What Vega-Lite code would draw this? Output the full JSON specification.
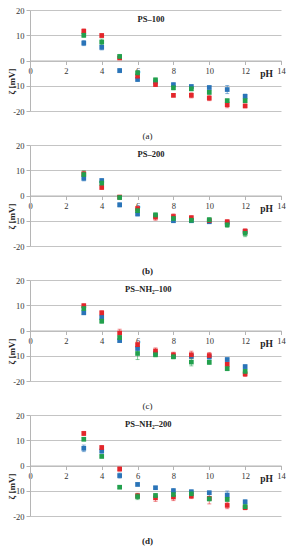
{
  "$schema": "https://vega.github.io/schema/vega-lite/v6.json",
  "padding": {"left": 7, "top": 6, "right": 5, "bottom": 3},
  "spacing": 0,
  "config": {
    "font": "Liberation Serif",
    "view": {"stroke": null},
    "title": {"font": "Liberation Serif", "fontSize": 9, "fontWeight": "bold", "orient": "bottom", "offset": 16, "dx": -8, "color": "#222"},
    "axis": {"labelFont": "Liberation Serif", "titleFont": "Liberation Serif", "labelFontSize": 8.5, "labelColor": "#333", "titleColor": "#222", "labelOverlap": false},
    "axisX": {"orient": "bottom", "offset": -50.5, "values": [0,2,4,6,8,10,12,14], "grid": false, "domainColor": "#b5b5b5", "tickColor": "#b5b5b5", "tickSize": 4, "labelPadding": 2, "labelFlush": false, "titleFontSize": 9.5, "titleFontWeight": "bold", "titleX": 236, "titleY": 8, "titleBaseline": "top", "titleAlign": "center"},
    "axisY": {"values": [-20,-10,0,10,20], "grid": true, "gridColor": "#c4c4c4", "domainColor": "#b5b5b5", "tickColor": "#b5b5b5", "tickSize": 4, "labelPadding": 2, "labelExpr": "'' + datum.value", "titleFontSize": 9, "titleFontWeight": "bold", "titleX": -19, "titleY": 71, "titleBaseline": "middle"}
  },
  "datasets": {
    "pts": [
      {"p": "a", "pH": 3, "s": "b", "v": 6.9, "e": 1.0},
      {"p": "a", "pH": 3, "s": "r", "v": 11.6, "e": 0.9},
      {"p": "a", "pH": 3, "s": "g", "v": 10.0, "e": 0.8},
      {"p": "a", "pH": 4, "s": "b", "v": 5.2, "e": 1.0},
      {"p": "a", "pH": 4, "s": "r", "v": 9.9, "e": 0.7},
      {"p": "a", "pH": 4, "s": "g", "v": 7.3, "e": 1.2},
      {"p": "a", "pH": 5, "s": "b", "v": -4.0, "e": 0.8},
      {"p": "a", "pH": 5, "s": "r", "v": 1.0, "e": 0.6},
      {"p": "a", "pH": 5, "s": "g", "v": 1.6, "e": 0.8},
      {"p": "a", "pH": 6, "s": "b", "v": -7.5, "e": 0.8},
      {"p": "a", "pH": 6, "s": "r", "v": -6.2, "e": 0.8},
      {"p": "a", "pH": 6, "s": "g", "v": -4.9, "e": 0.8},
      {"p": "a", "pH": 7, "s": "b", "v": -8.5, "e": 0.6},
      {"p": "a", "pH": 7, "s": "r", "v": -9.5, "e": 0.8},
      {"p": "a", "pH": 7, "s": "g", "v": -7.7, "e": 0.8},
      {"p": "a", "pH": 8, "s": "b", "v": -9.6, "e": 0.8},
      {"p": "a", "pH": 8, "s": "r", "v": -13.8, "e": 0.6},
      {"p": "a", "pH": 8, "s": "g", "v": -10.8, "e": 0.8},
      {"p": "a", "pH": 9, "s": "b", "v": -10.3, "e": 0.6},
      {"p": "a", "pH": 9, "s": "r", "v": -13.8, "e": 1.0},
      {"p": "a", "pH": 9, "s": "g", "v": -11.2, "e": 0.8},
      {"p": "a", "pH": 10, "s": "b", "v": -10.7, "e": 0.6},
      {"p": "a", "pH": 10, "s": "r", "v": -14.9, "e": 1.0},
      {"p": "a", "pH": 10, "s": "g", "v": -12.6, "e": 0.8},
      {"p": "a", "pH": 11, "s": "b", "v": -11.5, "e": 1.6},
      {"p": "a", "pH": 11, "s": "r", "v": -17.5, "e": 1.2},
      {"p": "a", "pH": 11, "s": "g", "v": -15.9, "e": 0.6},
      {"p": "a", "pH": 12, "s": "b", "v": -14.2, "e": 0.9},
      {"p": "a", "pH": 12, "s": "r", "v": -18.0, "e": 0.7},
      {"p": "a", "pH": 12, "s": "g", "v": -15.9, "e": 0.8},

      {"p": "b", "pH": 3, "s": "b", "v": 6.8, "e": 1.0},
      {"p": "b", "pH": 3, "s": "r", "v": 8.6, "e": 1.0},
      {"p": "b", "pH": 3, "s": "g", "v": 8.3, "e": 1.5},
      {"p": "b", "pH": 4, "s": "b", "v": 5.9, "e": 0.8},
      {"p": "b", "pH": 4, "s": "r", "v": 3.2, "e": 0.8},
      {"p": "b", "pH": 4, "s": "g", "v": 4.9, "e": 0.8},
      {"p": "b", "pH": 5, "s": "b", "v": -3.7, "e": 0.8},
      {"p": "b", "pH": 5, "s": "r", "v": -0.6, "e": 0.6},
      {"p": "b", "pH": 5, "s": "g", "v": -0.8, "e": 0.8},
      {"p": "b", "pH": 6, "s": "b", "v": -7.3, "e": 0.8},
      {"p": "b", "pH": 6, "s": "r", "v": -5.2, "e": 0.8},
      {"p": "b", "pH": 6, "s": "g", "v": -6.0, "e": 0.8},
      {"p": "b", "pH": 7, "s": "b", "v": -8.1, "e": 0.6},
      {"p": "b", "pH": 7, "s": "r", "v": -8.6, "e": 1.2},
      {"p": "b", "pH": 7, "s": "g", "v": -7.7, "e": 0.8},
      {"p": "b", "pH": 8, "s": "b", "v": -10.0, "e": 0.7},
      {"p": "b", "pH": 8, "s": "r", "v": -8.3, "e": 1.0},
      {"p": "b", "pH": 8, "s": "g", "v": -9.1, "e": 0.8},
      {"p": "b", "pH": 9, "s": "b", "v": -10.0, "e": 0.6},
      {"p": "b", "pH": 9, "s": "r", "v": -8.8, "e": 0.8},
      {"p": "b", "pH": 9, "s": "g", "v": -9.8, "e": 0.8},
      {"p": "b", "pH": 10, "s": "b", "v": -10.4, "e": 0.7},
      {"p": "b", "pH": 10, "s": "r", "v": -9.9, "e": 0.6},
      {"p": "b", "pH": 10, "s": "g", "v": -9.6, "e": 0.8},
      {"p": "b", "pH": 11, "s": "b", "v": -10.9, "e": 0.8},
      {"p": "b", "pH": 11, "s": "r", "v": -10.4, "e": 0.8},
      {"p": "b", "pH": 11, "s": "g", "v": -11.6, "e": 1.0},
      {"p": "b", "pH": 12, "s": "b", "v": -14.3, "e": 0.8},
      {"p": "b", "pH": 12, "s": "r", "v": -14.1, "e": 0.9},
      {"p": "b", "pH": 12, "s": "g", "v": -15.0, "e": 1.3},

      {"p": "c", "pH": 3, "s": "b", "v": 7.0, "e": 0.6},
      {"p": "c", "pH": 3, "s": "r", "v": 9.8, "e": 0.8},
      {"p": "c", "pH": 3, "s": "g", "v": 8.7, "e": 0.8},
      {"p": "c", "pH": 4, "s": "b", "v": 5.2, "e": 0.8},
      {"p": "c", "pH": 4, "s": "r", "v": 7.0, "e": 0.8},
      {"p": "c", "pH": 4, "s": "g", "v": 3.7, "e": 0.8},
      {"p": "c", "pH": 5, "s": "b", "v": -4.0, "e": 0.6},
      {"p": "c", "pH": 5, "s": "r", "v": -1.0, "e": 1.5},
      {"p": "c", "pH": 5, "s": "g", "v": -2.8, "e": 0.8},
      {"p": "c", "pH": 6, "s": "b", "v": -7.1, "e": 0.8},
      {"p": "c", "pH": 6, "s": "r", "v": -5.6, "e": 1.0},
      {"p": "c", "pH": 6, "s": "g", "v": -9.1, "e": 2.4},
      {"p": "c", "pH": 7, "s": "b", "v": -9.0, "e": 0.6},
      {"p": "c", "pH": 7, "s": "r", "v": -8.1, "e": 1.2},
      {"p": "c", "pH": 7, "s": "g", "v": -9.6, "e": 0.8},
      {"p": "c", "pH": 8, "s": "b", "v": -10.2, "e": 0.6},
      {"p": "c", "pH": 8, "s": "r", "v": -9.6, "e": 1.0},
      {"p": "c", "pH": 8, "s": "g", "v": -10.4, "e": 0.8},
      {"p": "c", "pH": 9, "s": "b", "v": -10.2, "e": 0.8},
      {"p": "c", "pH": 9, "s": "r", "v": -9.6, "e": 1.4},
      {"p": "c", "pH": 9, "s": "g", "v": -12.5, "e": 1.5},
      {"p": "c", "pH": 10, "s": "b", "v": -10.5, "e": 0.8},
      {"p": "c", "pH": 10, "s": "r", "v": -9.9, "e": 1.2},
      {"p": "c", "pH": 10, "s": "g", "v": -12.6, "e": 0.8},
      {"p": "c", "pH": 11, "s": "b", "v": -11.5, "e": 0.6},
      {"p": "c", "pH": 11, "s": "r", "v": -13.4, "e": 1.0},
      {"p": "c", "pH": 11, "s": "g", "v": -15.1, "e": 0.8},
      {"p": "c", "pH": 12, "s": "b", "v": -14.3, "e": 0.7},
      {"p": "c", "pH": 12, "s": "r", "v": -17.2, "e": 1.0},
      {"p": "c", "pH": 12, "s": "g", "v": -16.2, "e": 0.8},

      {"p": "d", "pH": 3, "s": "b", "v": 6.8, "e": 1.3},
      {"p": "d", "pH": 3, "s": "r", "v": 12.7, "e": 0.8},
      {"p": "d", "pH": 3, "s": "g", "v": 10.4, "e": 0.6},
      {"p": "d", "pH": 4, "s": "b", "v": 5.7, "e": 0.8},
      {"p": "d", "pH": 4, "s": "r", "v": 7.1, "e": 0.8},
      {"p": "d", "pH": 4, "s": "g", "v": 3.6, "e": 0.6},
      {"p": "d", "pH": 5, "s": "b", "v": -4.0, "e": 1.0},
      {"p": "d", "pH": 5, "s": "r", "v": -1.4, "e": 0.8},
      {"p": "d", "pH": 5, "s": "g", "v": -8.6, "e": 0.5},
      {"p": "d", "pH": 6, "s": "b", "v": -7.5, "e": 0.6},
      {"p": "d", "pH": 6, "s": "r", "v": -12.0, "e": 1.0},
      {"p": "d", "pH": 6, "s": "g", "v": -12.3, "e": 1.2},
      {"p": "d", "pH": 7, "s": "b", "v": -8.8, "e": 0.5},
      {"p": "d", "pH": 7, "s": "r", "v": -12.8, "e": 1.4},
      {"p": "d", "pH": 7, "s": "g", "v": -11.9, "e": 0.8},
      {"p": "d", "pH": 8, "s": "b", "v": -10.0, "e": 0.9},
      {"p": "d", "pH": 8, "s": "r", "v": -12.5, "e": 1.4},
      {"p": "d", "pH": 8, "s": "g", "v": -11.5, "e": 1.0},
      {"p": "d", "pH": 9, "s": "b", "v": -10.4, "e": 0.7},
      {"p": "d", "pH": 9, "s": "r", "v": -12.1, "e": 1.0},
      {"p": "d", "pH": 9, "s": "g", "v": -11.2, "e": 0.8},
      {"p": "d", "pH": 10, "s": "b", "v": -10.8, "e": 0.7},
      {"p": "d", "pH": 10, "s": "r", "v": -13.0, "e": 2.2},
      {"p": "d", "pH": 10, "s": "g", "v": -13.2, "e": 0.8},
      {"p": "d", "pH": 11, "s": "b", "v": -11.7, "e": 1.6},
      {"p": "d", "pH": 11, "s": "r", "v": -15.8, "e": 1.3},
      {"p": "d", "pH": 11, "s": "g", "v": -13.4, "e": 0.8},
      {"p": "d", "pH": 12, "s": "b", "v": -14.4, "e": 0.8},
      {"p": "d", "pH": 12, "s": "r", "v": -16.7, "e": 0.8},
      {"p": "d", "pH": 12, "s": "g", "v": -16.3, "e": 1.0}
    ],
    "titles": [
      {"p": "a", "x": 6.75, "y": 16.5, "t": "PS–100"},
      {"p": "b", "x": 6.75, "y": 16.5, "t": "PS–200"},
      {"p": "c", "x": 6.6, "y": 16.3, "t": "PS–NH₂–100"},
      {"p": "d", "x": 6.6, "y": 16.3, "t": "PS–NH₂–200"}
    ]
  },
  "vconcat": [
    {
      "width": 251, "height": 101,
      "title": {"text": "(a)", "fontWeight": "normal"},
      "layer": [
        {"data": {"name": "pts"}, "transform": [{"filter": "datum.p === 'a'"}],
         "mark": {"type": "errorbar", "ticks": {"size": 4}, "opacity": 0.55},
         "encoding": {"x": {"field": "pH", "type": "quantitative", "scale": {"domain": [0, 14], "nice": false}, "axis": {"title": "pH"}},
          "y": {"field": "v", "type": "quantitative", "scale": {"domain": [-20, 20], "nice": false}, "axis": {"title": "ζ [mV]", "titleAlign": "center", "titleAngle": -90}},
          "yError": {"field": "e"},
          "color": {"field": "s", "type": "nominal", "scale": {"domain": ["r", "g", "b"], "range": ["#e3262b", "#22a04d", "#2a74b8"]}, "legend": null}}},
        {"data": {"name": "pts"}, "transform": [{"filter": "datum.p === 'a'"}, {"calculate": "datum.s === 'g' ? 3 : datum.s === 'r' ? 2 : 1", "as": "ord"}],
         "mark": {"type": "square", "size": 22, "opacity": 1},
         "encoding": {"x": {"field": "pH", "type": "quantitative"}, "y": {"field": "v", "type": "quantitative"},
          "order": {"field": "ord"},
          "color": {"field": "s", "type": "nominal", "legend": null}}},
        {"data": {"name": "titles"}, "transform": [{"filter": "datum.p === 'a'"}],
         "mark": {"type": "text", "fontWeight": "bold", "fontSize": 8.5, "font": "Liberation Serif", "color": "#222"},
         "encoding": {"x": {"field": "x", "type": "quantitative"}, "y": {"field": "y", "type": "quantitative"}, "text": {"field": "t"}}}
      ]
    },
    {
      "width": 251, "height": 101,
      "title": {"text": "(b)"},
      "layer": [
        {"data": {"name": "pts"}, "transform": [{"filter": "datum.p === 'b'"}],
         "mark": {"type": "errorbar", "ticks": {"size": 4}, "opacity": 0.55},
         "encoding": {"x": {"field": "pH", "type": "quantitative", "scale": {"domain": [0, 14], "nice": false}, "axis": {"title": "pH"}},
          "y": {"field": "v", "type": "quantitative", "scale": {"domain": [-20, 20], "nice": false}, "axis": {"title": "ζ [mV]", "titleAlign": "center", "titleAngle": -90}},
          "yError": {"field": "e"},
          "color": {"field": "s", "type": "nominal", "scale": {"domain": ["r", "g", "b"], "range": ["#e3262b", "#22a04d", "#2a74b8"]}, "legend": null}}},
        {"data": {"name": "pts"}, "transform": [{"filter": "datum.p === 'b'"}, {"calculate": "datum.s === 'g' ? 3 : datum.s === 'r' ? 2 : 1", "as": "ord"}],
         "mark": {"type": "square", "size": 22, "opacity": 1},
         "encoding": {"x": {"field": "pH", "type": "quantitative"}, "y": {"field": "v", "type": "quantitative"},
          "order": {"field": "ord"},
          "color": {"field": "s", "type": "nominal", "legend": null}}},
        {"data": {"name": "titles"}, "transform": [{"filter": "datum.p === 'b'"}],
         "mark": {"type": "text", "fontWeight": "bold", "fontSize": 8.5, "font": "Liberation Serif", "color": "#222"},
         "encoding": {"x": {"field": "x", "type": "quantitative"}, "y": {"field": "y", "type": "quantitative"}, "text": {"field": "t"}}}
      ]
    },
    {
      "width": 251, "height": 101,
      "title": {"text": "(c)", "fontWeight": "normal"},
      "layer": [
        {"data": {"name": "pts"}, "transform": [{"filter": "datum.p === 'c'"}],
         "mark": {"type": "errorbar", "ticks": {"size": 4}, "opacity": 0.55},
         "encoding": {"x": {"field": "pH", "type": "quantitative", "scale": {"domain": [0, 14], "nice": false}, "axis": {"title": "pH"}},
          "y": {"field": "v", "type": "quantitative", "scale": {"domain": [-20, 20], "nice": false}, "axis": {"title": "ζ [mV]", "titleAlign": "center", "titleAngle": -90}},
          "yError": {"field": "e"},
          "color": {"field": "s", "type": "nominal", "scale": {"domain": ["r", "g", "b"], "range": ["#e3262b", "#22a04d", "#2a74b8"]}, "legend": null}}},
        {"data": {"name": "pts"}, "transform": [{"filter": "datum.p === 'c'"}, {"calculate": "datum.s === 'g' ? 3 : datum.s === 'r' ? 2 : 1", "as": "ord"}],
         "mark": {"type": "square", "size": 22, "opacity": 1},
         "encoding": {"x": {"field": "pH", "type": "quantitative"}, "y": {"field": "v", "type": "quantitative"},
          "order": {"field": "ord"},
          "color": {"field": "s", "type": "nominal", "legend": null}}},
        {"data": {"name": "titles"}, "transform": [{"filter": "datum.p === 'c'"}],
         "mark": {"type": "text", "fontWeight": "bold", "fontSize": 8.5, "font": "Liberation Serif", "color": "#222"},
         "encoding": {"x": {"field": "x", "type": "quantitative"}, "y": {"field": "y", "type": "quantitative"}, "text": {"field": "t"}}}
      ]
    },
    {
      "width": 251, "height": 101,
      "title": {"text": "(d)"},
      "layer": [
        {"data": {"name": "pts"}, "transform": [{"filter": "datum.p === 'd'"}],
         "mark": {"type": "errorbar", "ticks": {"size": 4}, "opacity": 0.55},
         "encoding": {"x": {"field": "pH", "type": "quantitative", "scale": {"domain": [0, 14], "nice": false}, "axis": {"title": "pH"}},
          "y": {"field": "v", "type": "quantitative", "scale": {"domain": [-20, 20], "nice": false}, "axis": {"title": "ζ [mV]", "titleAlign": "center", "titleAngle": -90}},
          "yError": {"field": "e"},
          "color": {"field": "s", "type": "nominal", "scale": {"domain": ["r", "g", "b"], "range": ["#e3262b", "#22a04d", "#2a74b8"]}, "legend": null}}},
        {"data": {"name": "pts"}, "transform": [{"filter": "datum.p === 'd'"}, {"calculate": "datum.s === 'g' ? 3 : datum.s === 'r' ? 2 : 1", "as": "ord"}],
         "mark": {"type": "square", "size": 22, "opacity": 1},
         "encoding": {"x": {"field": "pH", "type": "quantitative"}, "y": {"field": "v", "type": "quantitative"},
          "order": {"field": "ord"},
          "color": {"field": "s", "type": "nominal", "legend": null}}},
        {"data": {"name": "titles"}, "transform": [{"filter": "datum.p === 'd'"}],
         "mark": {"type": "text", "fontWeight": "bold", "fontSize": 8.5, "font": "Liberation Serif", "color": "#222"},
         "encoding": {"x": {"field": "x", "type": "quantitative"}, "y": {"field": "y", "type": "quantitative"}, "text": {"field": "t"}}}
      ]
    }
  ]
}
